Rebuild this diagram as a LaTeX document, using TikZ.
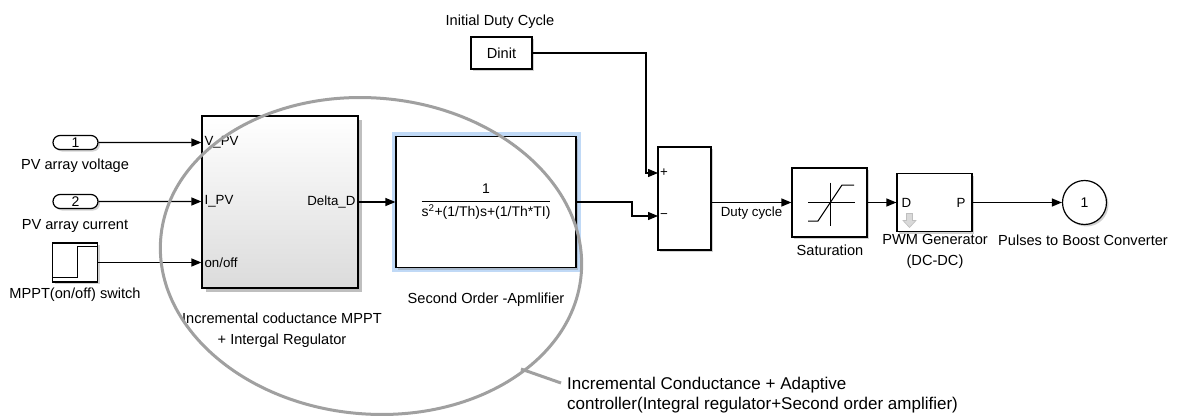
\documentclass[tikz,border=0pt]{standalone}
\usepackage{fontspec}
\setmainfont{Liberation Sans}
\usetikzlibrary{arrows.meta,shadows,shapes.misc,positioning}

\definecolor{hlblue}{RGB}{192,217,246}
\definecolor{ringgray}{RGB}{160,160,160}

\tikzset{
  shad/.style={drop shadow={shadow xshift=2pt, shadow yshift=-2pt, opacity=0.35}},
  blk/.style={draw, line width=1.2pt, fill=white, inner sep=0pt, shad},
  port/.style={blk, rounded rectangle, minimum width=45pt, minimum height=14pt,
    font=\fontsize{14}{16}\selectfont},
  lbl/.style={font=\fontsize{14.6}{21}\selectfont, inner sep=0pt, align=center},
  plbl/.style={font=\fontsize{13.3}{15}\selectfont, inner sep=3pt},
  sig/.style={line width=1.2pt, -{Triangle[length=10pt,width=8pt]}},
  ring/.style={ringgray, line width=3pt},
}

\begin{document}
\begin{tikzpicture}[x=1pt, y=-1pt]

      \fill[white] (0,0) rectangle (1177,417);
      \useasboundingbox (0,0) rectangle (1177,417);

      % inputs
      \node[port] (in1) at (75.5,142.5) {1};
      \node[lbl] (in1lbl) at (75,166) {PV array voltage};
      \node[port] (in2) at (75.5,201.5) {2};
      \node[lbl] (in2lbl) at (75,226) {PV array current};
      \node[blk, minimum width=45pt, minimum height=39pt] (step) at (75,262.5) {};
      \draw[line width=1pt] ([shift={(-22,14.5)}]step.center) -- ++(24,0) -- ++(0,-31) -- ++(20,0);
      \node[lbl] (steplbl) at (75,295) {MPPT(on/off) switch};

      % MPPT block
      \node[draw, line width=1.2pt, top color=white, bottom color=gray!28,
        minimum width=156pt, minimum height=172pt,
        drop shadow={shadow xshift=4pt, shadow yshift=-4pt, opacity=0.5}] (mppt) at (280,202) {};
      \node[plbl, anchor=west] (vpv) at (mppt.west |- in1) {V\_PV};
      \node[plbl, anchor=west] (ipv) at (mppt.west |- in2) {I\_PV};
      \node[plbl, anchor=west] (onoff) at (mppt.west |- step) {on/off};
      \node[plbl, anchor=east] (dd) at (mppt.east) {Delta\_D};
      \node[lbl] (mpptlbl) at (282,330.5) {Incremental coductance MPPT\\+ Intergal Regulator};

      \draw[sig] (in1) -- (vpv.west);
      \draw[sig] (in2) -- (ipv.west);
      \draw[sig] (step) -- (onoff.west);

      % second order amplifier
      \node[fill=hlblue, minimum width=189pt, minimum height=140pt] (tfhl) at (486,202) {};
      \node[blk, minimum width=180pt, minimum height=131pt, font=\fontsize{14}{16}\selectfont]
        (tf) at (486,202) {\setlength{\arrayrulewidth}{1.2pt}%
        \begin{tabular}{@{}c@{}}1\\[2pt]\hline
        \rule{0pt}{15pt}s\textsuperscript{2}+(1/Th)s+(1/Th*TI)\end{tabular}};
      \node[lbl] (tflbl) at (486,300) {Second Order -Apmlifier};
      \draw[sig] (dd.east) -- (tf.west);

      % initial duty cycle and sum
      \node[blk, minimum width=61pt, minimum height=32pt, font=\fontsize{14.6}{17}\selectfont]
        (dinit) at (501.5,53) {Dinit};
      \node[lbl] (dinitlbl) at (500,22) {Initial Duty Cycle};
      \node[blk, minimum width=53pt, minimum height=103pt] (sum) at (684.5,198.5) {};
      \coordinate (splus) at (658,173);
      \coordinate (sminus) at (658,216);
      \coordinate (dbend) at (646,173);
      \coordinate (tbend) at (632,216);
      \node[plbl, anchor=west, inner sep=2pt] at (splus) {+};
      \node[plbl, anchor=west, inner sep=2pt] at (sminus) {−};
      \draw[sig] (dinit.east) -| (dbend) -- (splus);
      \draw[sig] (tf.east) -| (tbend) -- (sminus);

      % saturation, PWM, output
      \node[blk, minimum width=75pt, minimum height=69pt] (sat) at (829.5,202.5) {};
      \draw[line width=1pt] ([shift={(0.5,-20)}]sat.center) -- ++(0,43);
      \draw[line width=1pt] ([shift={(-21.5,-0.5)}]sat.center) -- ++(47,0);
      \draw[line width=1pt] ([shift={(-21.5,18.5)}]sat.center) -- ++(10,0) -- ++(24,-36) -- ++(12,0);
      \node[lbl] (satlbl) at (830,250) {Saturation};
      \draw[sig] (sat.west -| sum.east) -- node[plbl, below, inner sep=4pt] {Duty cycle} (sat.west);

      \node[blk, minimum width=75pt, minimum height=58pt] (pwm) at (934.5,202.5) {};
      \node[plbl, anchor=west, inner sep=5pt] at (pwm.west) {D};
      \node[plbl, anchor=east, inner sep=7pt] at (pwm.east) {P};
      \filldraw[fill=gray!30, draw=gray!50, line width=0.6pt]
        ([shift={(-28,11)}]pwm.center) -- ++(6,0) -- ++(0,7) -- ++(3.5,0) -- ++(-6.5,7)
        -- ++(-6.5,-7) -- ++(3.5,0) -- cycle;
      \node[lbl] (pwmlbl) at (935,251) {PWM Generator\\(DC-DC)};
      \draw[sig] (sat) -- (pwm);

      \node[blk, circle, minimum size=44pt, font=\fontsize{14}{16}\selectfont] (out) at (1084.5,202.5) {1};
      \node[lbl] (outlbl) at (1083,240) {Pulses to Boost Converter};
      \draw[sig] (pwm) -- (out);

      % ring around the controller
      \draw[ring, rotate around={-5:(371,256)}] (371,256) ellipse [x radius=211, y radius=158];
      \coordinate (tail) at (521,369);
      \coordinate (tailend) at (561,383);
      \draw[ring] (tail) -- (tailend);
      \node[font=\fontsize{17}{20}\selectfont, align=left, anchor=west, inner sep=0pt] (note) at (567,395)
        {Incremental Conductance + Adaptive\\controller(Integral regulator+Second order amplifier)};

    \end{tikzpicture}
\end{document}
